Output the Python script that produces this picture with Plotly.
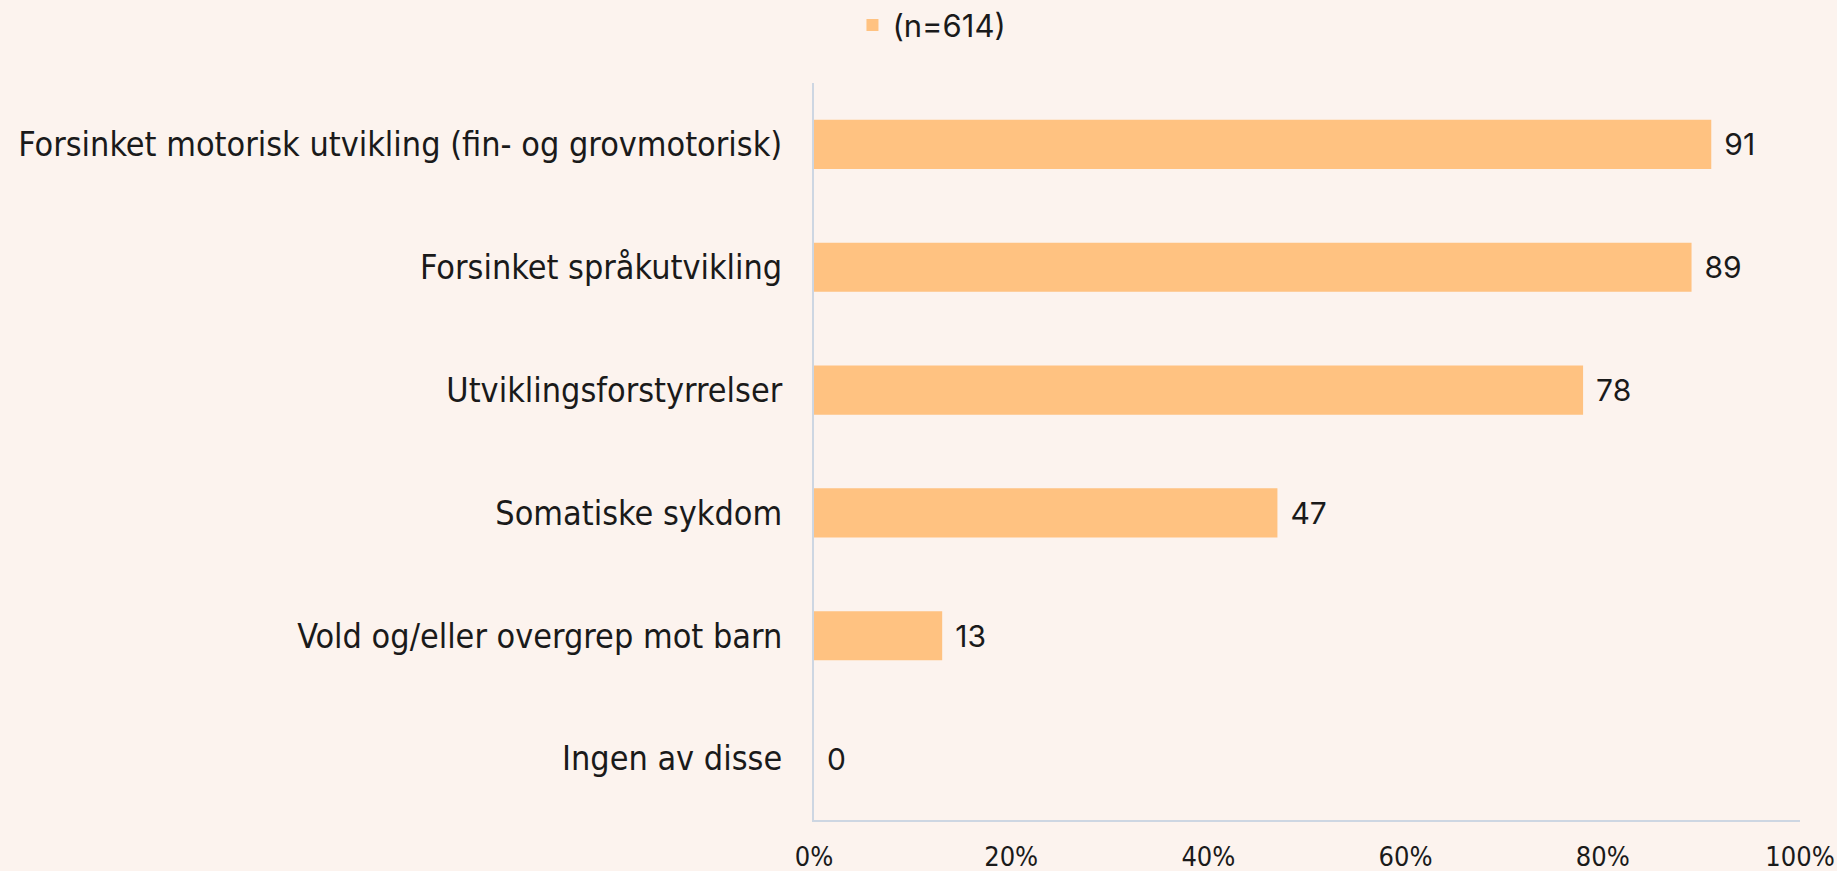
import plotly.graph_objects as go

categories = [
    "Forsinket motorisk utvikling (fin- og grovmotorisk)",
    "Forsinket språkutvikling",
    "Utviklingsforstyrrelser",
    "Somatiske sykdom",
    "Vold og/eller overgrep mot barn",
    "Ingen av disse",
]
values = [91, 89, 78, 47, 13, 0]
series_name = "(n=614)"
x_tickvals = [0, 20, 40, 60, 80, 100]
x_ticktext = ["0%", "20%", "40%", "60%", "80%", "100%"]

BG = "#FCF3EE"
BAR = "#FFC281"
AXIS = "#CDD6E2"
TXT = "#1A1A1A"
NARROW = "DejaVu Sans Condensed, sans-serif"
REG = "Inter, Roboto, sans-serif"

fig = go.Figure()
fig.add_trace(go.Bar(
    y=categories, x=values, orientation="h", name=series_name,
    marker=dict(color=BAR, line=dict(width=0)),
    text=[str(v) for v in values],
    texttemplate="\u2004%{text}", textposition="outside",
    textfont=dict(family=REG, size=30, color=TXT),
    cliponaxis=False,
))

fig.update_layout(
    width=1837, height=871,
    paper_bgcolor=BG, plot_bgcolor=BG,
    margin=dict(l=814, r=37, t=83, b=51, autoexpand=False),
    bargap=0.6,
    showlegend=True,
    legend=dict(orientation="h", x=0.039, xanchor="left", y=0.971, yanchor="middle",
                yref="container", font=dict(family=REG, size=31, color=TXT),
                bgcolor="rgba(0,0,0,0)"),
    xaxis=dict(range=[0, 100], tickvals=x_tickvals, ticktext=x_ticktext,
               showgrid=False, zeroline=False, showline=True, linecolor=AXIS, linewidth=2,
               ticks="outside", ticklen=12, tickcolor="rgba(0,0,0,0)", automargin=False,
               tickfont=dict(family=NARROW, size=27, color=TXT)),
    yaxis=dict(autorange="reversed", showgrid=False, zeroline=False,
               showline=True, linecolor=AXIS, linewidth=2,
               ticks="outside", ticklen=23, tickcolor="rgba(0,0,0,0)", automargin=False,
               tickfont=dict(family=NARROW, size=33.9, color=TXT)),
)

fig.write_html("out.html", config={"displayModeBar": False},
               post_script="document.body.style.margin='0';document.body.style.background='%s';" % BG)
